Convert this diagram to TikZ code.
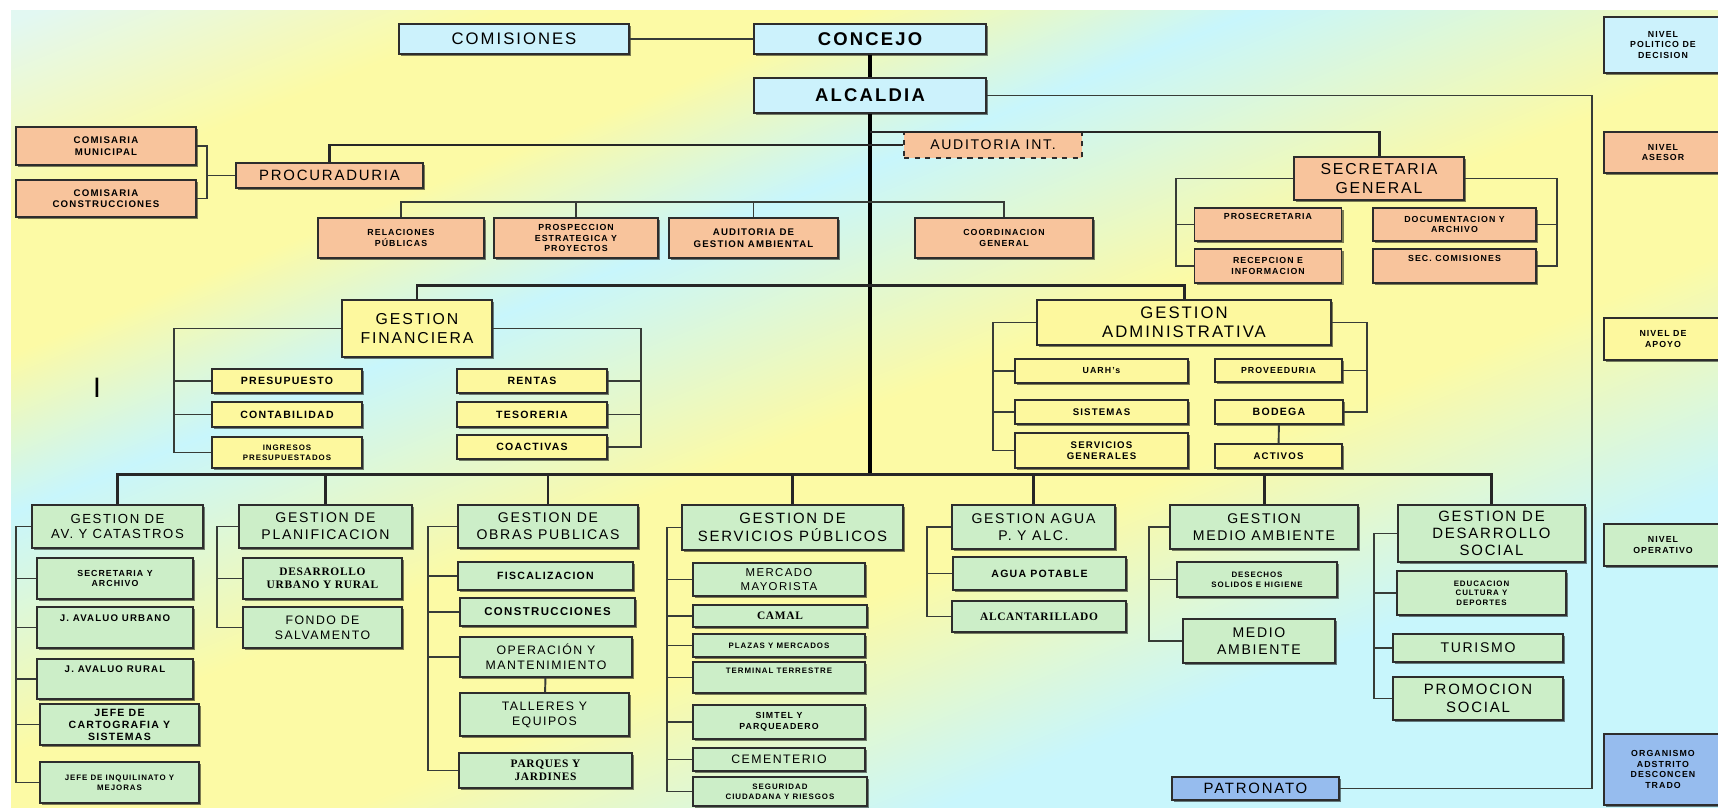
\documentclass[tikz,border=0pt]{standalone}
\usepackage{fontspec}
\setmainfont{Liberation Sans}[LetterSpace=12]
\newfontfamily\serifbold{Liberation Serif}[LetterSpace=6]
\usetikzlibrary{shadows}

\definecolor{bgpale}{RGB}{226,248,242}
\definecolor{bgcyan}{RGB}{200,246,252}
\definecolor{bgyellow}{RGB}{252,250,165}
\definecolor{topblue}{RGB}{204,242,252}
\definecolor{advorange}{RGB}{248,196,156}
\definecolor{supyellow}{RGB}{253,248,158}
\definecolor{opgreen}{RGB}{204,238,200}
\definecolor{orgblue}{RGB}{150,188,238}
\definecolor{edge}{RGB}{45,45,45}
\definecolor{linkgray}{RGB}{55,60,55}

\pgfdeclarehorizontalshading{bgstripes}{100bp}{color(0bp)=(bgpale); color(33.2bp)=(bgpale); color(37.6bp)=(bgyellow); color(40.9bp)=(bgyellow); color(44.6bp)=(bgcyan); color(50.2bp)=(bgyellow); color(54.6bp)=(bgyellow); color(60.1bp)=(bgcyan); color(100bp)=(bgcyan)}

\begin{document}
\begin{tikzpicture}[
  x=0.02cm, y=-0.02cm,
  box/.style={draw=edge, line width=0.7pt, align=center, inner sep=1pt,
    drop shadow={shadow xshift=1.3pt, shadow yshift=-1.3pt, opacity=0.5, fill=black}},
  tbox/.style={box, fill=topblue},
  abox/.style={box, fill=advorange},
  sbox/.style={box, fill=supyellow},
  obox/.style={box, fill=opgreen},
  pbox/.style={box, fill=orgblue},
  sz/.style 2 args={minimum width=#1*0.02cm, minimum height=#2*0.02cm},
  fr/.style 2 args={font=\fontsize{#1}{#2}\selectfont},
  fb/.style 2 args={font=\fontsize{#1}{#2}\selectfont\bfseries},
  fs/.style 2 args={font=\fontsize{#1}{#2}\selectfont\serifbold\bfseries},
  lift/.style={text depth=#1},
  lnk/.style={draw=linkgray, line width=1.1pt},
  bus/.style={draw=black!85, line width=1.7pt},
  trunk/.style={draw=black, line width=2.8pt}
]
  \useasboundingbox (0,0) rectangle (1718,808);
  % background
  \fill[white] (0,0) rectangle (1718,808);
  \begin{scope}
    \clip (11,10) rectangle (1718,808);
    \shade[shading=bgstripes, shading angle=-68] (-141,-596) rectangle (1859,1404);
  \end{scope}

  % nivel politico
  \node[tbox, sz={230}{30}, fr={9.5}{11}] (comis) at (514,39) {COMISIONES};
  \node[tbox, sz={232}{30}, fb={10.5}{12}] (concejo) at (870,39) {CONCEJO};
  \node[tbox, sz={232}{35}, fb={10.5}{12}] (alcaldia) at (870,95.5) {ALCALDIA};

  % nivel asesor
  \node[draw=edge, dashed, line width=0.7pt, fill=advorange, sz={178}{26}, fr={8}{9}] (audint) at (993,145) {AUDITORIA INT.};
  \node[abox, sz={187}{25}, fr={8.5}{10}] (procu) at (329.5,175.5) {PROCURADURIA};
  \node[abox, sz={180}{38}, fb={5.5}{6.5}] (cmun) at (106,146) {COMISARIA\\MUNICIPAL};
  \node[abox, sz={180}{37}, fb={5.5}{6.5}] (ccons) at (106,198.5) {COMISARIA\\CONSTRUCCIONES};
  \node[abox, sz={166}{40}, fb={5}{6}] (relpub) at (401,238) {RELACIONES\\PÚBLICAS};
  \node[abox, sz={164}{40}, fb={5}{6}] (prosp) at (576,238) {PROSPECCION\\ESTRATEGICA Y\\PROYECTOS};
  \node[abox, sz={169}{40}, fb={5.5}{6.5}] (audamb) at (753.5,238) {AUDITORIA DE\\GESTION AMBIENTAL};
  \node[abox, sz={178}{40}, fb={5}{6}] (coord) at (1004,238) {COORDINACION\\GENERAL};
  \node[abox, sz={170}{43}, fr={9}{10.5}] (secgen) at (1379,178.5) {SECRETARIA\\GENERAL};
  \node[abox, sz={147}{33}, fb={5}{6}, lift=9pt] (prosec) at (1268,224.5) {PROSECRETARIA};
  \node[abox, sz={147}{34}, fb={5}{6}] (recep) at (1268,266) {RECEPCION E\\INFORMACION};
  \node[abox, sz={163}{33}, fb={5}{6}] (docum) at (1454.5,224.5) {DOCUMENTACION Y\\ARCHIVO};
  \node[abox, sz={163}{34}, fb={5}{6}, lift=9pt] (seccom) at (1454.5,266) {SEC. COMISIONES};

  % nivel de apoyo
  \node[sbox, sz={150}{57}, fr={9}{10.5}] (gfin) at (417,328.5) {GESTION\\FINANCIERA};
  \node[sbox, sz={294}{45}, fr={9.5}{11}] (gadm) at (1184,322.5) {GESTION\\ADMINISTRATIVA};
  \node[sbox, sz={150}{24}, fb={6}{7}] (presup) at (287,381) {PRESUPUESTO};
  \node[sbox, sz={150}{25}, fb={6}{7}] (contab) at (287,414.5) {CONTABILIDAD};
  \node[sbox, sz={150}{31}, fb={4.5}{5.5}] (ingres) at (287,452.5) {INGRESOS\\PRESUPUESTADOS};
  \node[sbox, sz={150}{24}, fb={6}{7}] (rentas) at (532,381) {RENTAS};
  \node[sbox, sz={150}{25}, fb={6}{7}] (tesor) at (532,414.5) {TESORERIA};
  \node[sbox, sz={150}{24}, fb={6}{7}] (coact) at (532,447) {COACTIVAS};
  \node[sbox, sz={173}{24}, fb={5}{6}] (uarh) at (1101.5,371) {UARH's};
  \node[sbox, sz={173}{24}, fb={5.5}{6.5}] (sist) at (1101.5,412) {SISTEMAS};
  \node[sbox, sz={173}{35}, fb={5.5}{6.5}] (servg) at (1101.5,450.5) {SERVICIOS\\GENERALES};
  \node[sbox, sz={127}{23}, fb={5}{6}] (prov) at (1278.5,370.5) {PROVEEDURIA};
  \node[sbox, sz={128}{24}, fb={6}{7}] (bodega) at (1279,412) {BODEGA};
  \node[sbox, sz={127}{24}, fb={5.5}{6.5}] (activos) at (1278.5,456) {ACTIVOS};
  \node[fr={16}{18}, inner sep=0pt] (mark) at (97,388) {I};

  % nivel operativo
  \node[obox, sz={171}{43}, fr={7.5}{9}] (gav) at (117.5,526.5) {GESTION DE\\AV. Y CATASTROS};
  \node[obox, sz={173}{43}, fr={8}{9.5}] (gpl) at (325.5,526.5) {GESTION DE\\PLANIFICACION};
  \node[obox, sz={180}{43}, fr={8}{9.5}] (gop) at (548,526.5) {GESTION DE\\OBRAS PUBLICAS};
  \node[obox, sz={221}{45}, fr={8.5}{10}] (gsp) at (792.5,527.5) {GESTION DE\\SERVICIOS PÚBLICOS};
  \node[obox, sz={163}{44}, fr={8}{9.5}] (gag) at (1033.5,527) {GESTION AGUA\\P. Y ALC.};
  \node[obox, sz={188}{44}, fr={8}{9.5}] (gma) at (1264,527) {GESTION\\MEDIO AMBIENTE};
  \node[obox, sz={187}{57}, fr={8.5}{9.5}] (gds) at (1491.5,533.5) {GESTION DE\\DESARROLLO\\SOCIAL};

  \node[obox, sz={156}{41}, fb={5}{6}] (secarch) at (115,578.5) {SECRETARIA Y\\ARCHIVO};
  \node[obox, sz={156}{41}, fb={5.5}{6.5}, lift=11pt] (javurb) at (115,627.5) {J. AVALUO URBANO};
  \node[obox, sz={156}{40}, fb={5.5}{6.5}, lift=11pt] (javrur) at (115,679) {J. AVALUO RURAL};
  \node[obox, sz={159}{41}, fb={6}{6.8}] (jcart) at (119.5,724.5) {JEFE DE\\CARTOGRAFIA Y\\SISTEMAS};
  \node[obox, sz={159}{41}, fb={4.5}{5.5}] (jinq) at (119.5,782.5) {JEFE DE INQUILINATO Y\\MEJORAS};

  \node[obox, sz={159}{41}, fs={6.5}{7.5}] (desurb) at (322.5,578.5) {DESARROLLO\\URBANO Y RURAL};
  \node[obox, sz={159}{41}, fr={7}{8.5}] (fondo) at (322.5,627.5) {FONDO DE\\SALVAMENTO};

  \node[obox, sz={175}{28}, fb={6}{7}] (fisc) at (545.5,576) {FISCALIZACION};
  \node[obox, sz={175}{28}, fb={6.5}{7.5}] (constr) at (547.5,612) {CONSTRUCCIONES};
  \node[obox, sz={172}{40}, fr={7}{8.5}] (opman) at (546,657) {OPERACIÓN Y\\MANTENIMIENTO};
  \node[obox, sz={169}{43}, fr={7}{8.5}] (talle) at (544.5,714.5) {TALLERES Y\\EQUIPOS};
  \node[obox, sz={173}{35}, fs={6.5}{7.5}] (parq) at (545.5,770.5) {PARQUES Y\\JARDINES};

  \node[obox, sz={172}{33}, fr={6.5}{7.5}] (merc) at (779,579.5) {MERCADO\\MAYORISTA};
  \node[obox, sz={174}{22}, fs={6.5}{7.5}] (camal) at (780,616) {CAMAL};
  \node[obox, sz={172}{23}, fb={4.5}{5.5}] (plazas) at (779,645.5) {PLAZAS Y MERCADOS};
  \node[obox, sz={172}{31}, fb={4.5}{5.5}, lift=8pt] (term) at (779,677.5) {TERMINAL TERRESTRE};
  \node[obox, sz={172}{34}, fb={5}{6}] (simtel) at (779,722) {SIMTEL Y\\PARQUEADERO};
  \node[obox, sz={172}{23}, fr={7}{8.5}] (cement) at (779,759.5) {CEMENTERIO};
  \node[obox, sz={174}{29}, fb={4.5}{5.5}] (segur) at (780,791.5) {SEGURIDAD\\CIUDADANA Y RIESGOS};

  \node[obox, sz={173}{33}, fb={6}{7}] (aguap) at (1039.5,573.5) {AGUA POTABLE};
  \node[obox, sz={174}{31}, fs={6.5}{7.5}] (alcant) at (1039,616.5) {ALCANTARILLADO};

  \node[obox, sz={160}{35}, fb={4.5}{5.5}] (desech) at (1257,579.5) {DESECHOS\\SOLIDOS E HIGIENE};
  \node[obox, sz={152}{44}, fr={8}{9.5}] (medamb) at (1259,641) {MEDIO\\AMBIENTE};

  \node[obox, sz={169}{44}, fb={4.5}{5.5}] (educ) at (1481.5,593) {EDUCACION\\CULTURA Y\\DEPORTES};
  \node[obox, sz={170}{28}, fr={8}{9.5}] (turis) at (1478,648) {TURISMO};
  \node[obox, sz={170}{43}, fr={8.5}{10}] (promo) at (1478,698.5) {PROMOCION\\SOCIAL};

  \node[pbox, sz={167}{23}, fr={8.5}{10}] (patro) at (1255.5,788.5) {PATRONATO};

  % niveles
  \node[tbox, sz={118}{56}, fb={5}{6}] (nivpol) at (1663,45) {NIVEL\\POLITICO DE\\DECISION};
  \node[abox, sz={118}{41}, fb={5}{6}] (nivase) at (1663,152.5) {NIVEL\\ASESOR};
  \node[sbox, sz={118}{42}, fb={5}{6}] (nivapo) at (1663,339) {NIVEL DE\\APOYO};
  \node[obox, sz={118}{42}, fb={5}{6}] (nivope) at (1663,545) {NIVEL\\OPERATIVO};
  \node[pbox, sz={118}{71}, fb={5}{6}] (nivorg) at (1663,769.5) {ORGANISMO\\ADSTRITO\\DESCONCEN\\TRADO};

  % trunk
  \draw[lnk] (comis) -- (concejo);
  \draw[trunk] (concejo) -- (alcaldia);
  \coordinate (opbar) at (870,475);
  \draw[trunk] (alcaldia.south) -- (opbar);
  \coordinate (rail) at (1592,400);
  \draw[lnk] (alcaldia.east) -| (rail) |- (patro.east);

  % asesor
  \draw[bus] (procu.north) |- (audint.west);
  \coordinate (sgtap) at (870,132);
  \draw[bus] (sgtap) -| (secgen.north);
  \coordinate (pjoin) at (207,175.5);
  \draw[lnk] (cmun.east) -| (pjoin) |- (ccons.east);
  \draw[lnk] (procu.west) -- (pjoin);
  \draw[lnk] (relpub.north) -- ++(0,-15) -| (coord.north);
  \foreach \n in {prosp,audamb} \draw[lnk] (\n.north) -- ++(0,-15);
  \coordinate (rsgl) at (1176,0);
  \coordinate (rsgr) at (1557,0);
  \draw[lnk] (secgen.west) -| (rsgl |- recep.west) -- (recep.west);
  \draw[lnk] (prosec.west) -- (rsgl |- prosec.west);
  \draw[lnk] (secgen.east) -| (rsgr |- seccom.east) -- (seccom.east);
  \draw[lnk] (docum.east) -- (rsgr |- docum.east);

  % apoyo
  \draw[bus] (gfin.north) -- ++(0,-14) -| (gadm.north);
  \coordinate (rgfl) at (174,0);
  \coordinate (rgfr) at (641,0);
  \draw[lnk] (gfin.west) -| (rgfl |- ingres.west) -- (ingres.west);
  \foreach \n in {presup,contab} \draw[lnk] (\n.west) -- (rgfl |- \n.west);
  \draw[lnk] (gfin.east) -| (rgfr |- coact.east) -- (coact.east);
  \foreach \n in {rentas,tesor} \draw[lnk] (\n.east) -- (rgfr |- \n.east);
  \coordinate (rgal) at (993,0);
  \coordinate (rgar) at (1367,0);
  \draw[lnk] (gadm.west) -| (rgal |- servg.west) -- (servg.west);
  \foreach \n in {uarh,sist} \draw[lnk] (\n.west) -- (rgal |- \n.west);
  \draw[lnk] (gadm.east) -| (rgar |- bodega.east) -- (bodega.east);
  \draw[lnk] (prov.east) -- (rgar |- prov.east);
  \draw[lnk] (bodega) -- (activos);

  % operativo
  \draw[bus] (gav.north) -- ++(0,-30) -| (gds.north);
  \foreach \n in {gpl,gop,gsp,gag,gma} \draw[bus] (\n.north) -- ++(0,-30);
  \coordinate (rgav) at (16,0);
  \draw[lnk] (gav.west) -| (rgav |- jinq.west) -- (jinq.west);
  \foreach \n in {secarch,javurb,javrur,jcart} \draw[lnk] (\n.west) -- (rgav |- \n.west);
  \coordinate (rgpl) at (217,0);
  \draw[lnk] (gpl.west) -| (rgpl |- fondo.west) -- (fondo.west);
  \draw[lnk] (desurb.west) -- (rgpl |- desurb.west);
  \coordinate (rgop) at (428,0);
  \draw[lnk] (gop.west) -| (rgop |- parq.west) -- (parq.west);
  \foreach \n in {fisc,constr,opman} \draw[lnk] (\n.west) -- (rgop |- \n.west);
  \draw[lnk] (opman) -- (talle);
  \coordinate (rgsp) at (667,0);
  \draw[lnk] (gsp.west) -| (rgsp |- segur.west) -- (segur.west);
  \foreach \n in {merc,camal,plazas,term,simtel,cement} \draw[lnk] (\n.west) -- (rgsp |- \n.west);
  \coordinate (rgag) at (927,0);
  \draw[lnk] (gag.west) -| (rgag |- alcant.west) -- (alcant.west);
  \draw[lnk] (aguap.west) -- (rgag |- aguap.west);
  \coordinate (rgma) at (1149,0);
  \draw[lnk] (gma.west) -| (rgma |- medamb.west) -- (medamb.west);
  \draw[lnk] (desech.west) -- (rgma |- desech.west);
  \coordinate (rgds) at (1374,0);
  \draw[lnk] (gds.west) -| (rgds |- promo.west) -- (promo.west);
  \foreach \n in {educ,turis} \draw[lnk] (\n.west) -- (rgds |- \n.west);
\end{tikzpicture}
\end{document}
